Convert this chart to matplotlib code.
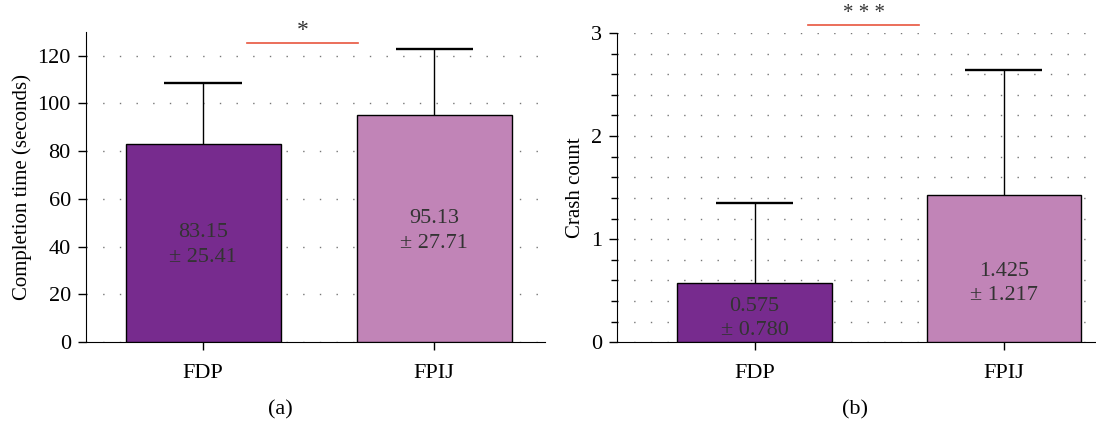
import numpy as np
import matplotlib.pyplot as plt
from matplotlib.ticker import MultipleLocator

groups = ['FDP', 'FPIJ']
time_mean = [83.15, 95.13]
time_sd = [25.41, 27.71]
crash_mean = [0.575, 1.425]
crash_sd = [0.780, 1.217]
colors = ['#772b8e', '#c184b7']

plt.rcParams['font.family'] = ['Liberation Serif', 'DejaVu Serif']
plt.rcParams['font.size'] = 16

fig = plt.figure(figsize=(10.96, 4.24), dpi=100)
ax1 = fig.add_axes([0.0785, 0.193, 0.419, 0.732])
ax2 = fig.add_axes([0.563, 0.193, 0.437, 0.729])

dots = (0, (1, 11))
x = np.arange(len(groups))

def draw(ax, mean, sd, width, cap, fmt, grid_step, minor, text_y):
    ax.bar(x, mean, width=width, color=colors, edgecolor='black', linewidth=1.0, zorder=3)
    top = np.array(mean) + np.array(sd)
    ax.vlines(x, mean, top, color='black', lw=1.0, zorder=2)
    ax.hlines(top, x - cap, x + cap, color='black', lw=1.7, zorder=2)
    for xi, m, s in zip(x, mean, sd):
        ax.text(xi, m * text_y, (fmt + '\n± ' + fmt).format(m, s), ha='center', va='center',
                color='#333333', fontsize=16, linespacing=1.4, zorder=4)
    for sp in ['top', 'right']:
        ax.spines[sp].set_visible(False)
    ax.set_xticks(x)
    ax.set_xticklabels(groups)
    ax.tick_params(axis='both', length=6, width=1, direction='out', pad=5, labelsize=16)
    ax.tick_params(axis='x', pad=10)
    ax.yaxis.set_major_locator(MultipleLocator(grid_step))
    if minor:
        ax.yaxis.set_minor_locator(MultipleLocator(minor))
        ax.tick_params(axis='y', which='minor', length=4, width=1)
        ax.grid(axis='y', which='both', linestyle=dots, color='#777777', linewidth=1, zorder=0)
    else:
        ax.grid(axis='y', which='major', linestyle=dots, color='#777777', linewidth=1, zorder=0)

draw(ax1, time_mean, time_sd, 0.67, 0.167, '{:.2f}', 20, None, 0.49)
ax1.set_xlim(-0.506, 1.48)
ax1.set_ylim(0, 130)
ax1.set_ylabel('Completion time (seconds)', fontsize=15)
ax1.plot([0.19, 0.67], [125.2, 125.2], color='#e8553e', lw=1.2, clip_on=False, zorder=5)
ax1.text(0.43, 126, '*', ha='center', va='bottom', fontsize=17, color='#333333')

draw(ax2, crash_mean, crash_sd, 0.62, 0.155, '{:.3f}', 1, 0.2, 0.4)
ax2.set_xlim(-0.552, 1.37)
ax2.set_ylim(0, 3)
ax2.set_ylabel('Crash count', fontsize=15)
ax2.plot([0.215, 0.66], [3.08, 3.08], color='#e8553e', lw=1.2, clip_on=False, zorder=5)
ax2.text(0.437, 3.1, '* * *', ha='center', va='bottom', fontsize=15, color='#333333')

fig.text(280 / 1096, 1 - 410 / 424, '(a)', ha='center', va='center', fontsize=16)
fig.text(855 / 1096, 1 - 410 / 424, '(b)', ha='center', va='center', fontsize=16)

fig.savefig('out.png', dpi=100)
